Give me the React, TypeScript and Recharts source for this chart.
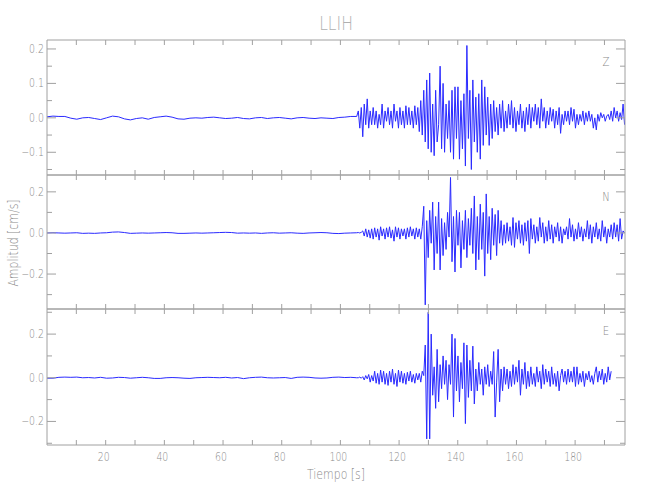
import React from "react";
import { LineChart, Line, XAxis, YAxis } from "recharts";

// samples: slow part every ~2 s, strong part every ~0.5 s
const QUIET_START = 0;
const QUIET_STEP = 2.03;
const ACTIVE_START = 106.1;
const ACTIVE_STEP = 0.507;

const Z_QUIET = [
  0.003, 0.005, 0.004, 0.004, -0.001, -0.004, 0.0, 0.001, -0.002, -0.005,
  0.0, 0.005, 0.003, -0.003, -0.006, -0.002, 0.0, -0.004, 0.001, 0.003,
  0.005, 0.002, -0.003, -0.004, -0.001, 0.0, -0.001, 0.001, 0.002, 0.0,
  -0.002, -0.001, 0.001, -0.002, -0.003, 0.0, 0.001, -0.002, 0.0, 0.001,
  -0.001, -0.003, 0.0, 0.001, -0.001, -0.002, 0.0, -0.001, -0.002, 0.001,
  0.002, 0.004, 0.004,
];
const Z_ACTIVE = [
  0.02, -0.03, 0.03, -0.055, 0.04, -0.02, 0.055, -0.03, 0.02, -0.02,
  0.03, -0.02, 0.02, -0.03, 0.01, -0.02, 0.04, -0.03, 0.02, -0.01,
  0.03, -0.02, 0.02, -0.03, 0.04, -0.01, 0.02, -0.03, 0.03, -0.02,
  0.02, -0.03, 0.035, -0.02, 0.03, -0.02, 0.02, -0.03, 0.035, -0.02,
  0.03, -0.04, 0.05, -0.05, 0.08, -0.07, 0.11, -0.09, 0.13, -0.1,
  0.04, -0.11, 0.08, -0.07, -0.02, 0.15, -0.09, 0.1, -0.1, 0.04,
  -0.06, 0.05, -0.1, 0.08, -0.12, 0.09, -0.06, 0.09, -0.12, 0.05,
  -0.09, 0.07, -0.14, 0.21, -0.06, 0.08, -0.15, 0.11, -0.07, 0.06,
  -0.1, 0.07, -0.12, 0.11, -0.08, 0.09, -0.05, 0.06, -0.08, 0.04,
  -0.06, 0.05, -0.04, 0.03, -0.05, 0.04, -0.03, 0.05, -0.04, 0.02,
  -0.03, 0.04, -0.02, 0.05, -0.03, 0.03, -0.04, 0.02, -0.02, 0.04,
  -0.03, 0.02, -0.04, 0.03, -0.02, 0.04, -0.03, 0.03, -0.01, 0.04,
  -0.02, 0.03, -0.03, 0.055, -0.01, 0.03, -0.03, 0.02, -0.02, 0.03,
  -0.01, 0.025, -0.03, 0.02, -0.02, 0.03, -0.045, 0.01, -0.02, 0.02,
  -0.01, 0.02, -0.02, 0.03, -0.01, 0.025, -0.03, 0.01, -0.02, 0.01,
  -0.01, 0.02, -0.02, 0.015, -0.01, 0.02, -0.01, 0.01, -0.03, 0.0,
  -0.035, 0.01, -0.01, 0.015, 0.0, 0.01, -0.01, 0.005, 0.01, -0.005,
  0.02, -0.01, 0.03, 0.0, 0.02, -0.01, 0.015, -0.005, 0.04, -0.02,
];

const N_QUIET = [
  0.0, 0.001, 0.0, -0.001, 0.0, 0.001, -0.002, -0.001, -0.002, 0.0,
  0.001, 0.004, 0.005, 0.002, -0.002, -0.001, 0.0, -0.001, 0.0, 0.001,
  0.002, 0.001, -0.002, -0.002, -0.001, 0.0, -0.001, 0.0, 0.001, 0.002,
  0.003, 0.002, -0.001, 0.0, -0.001, 0.0, -0.002, 0.0, 0.001, -0.001,
  0.0, 0.001, -0.001, -0.002, 0.0, 0.001, 0.002, 0.001, -0.002, -0.003,
  -0.001, 0.0, 0.001,
];
const N_ACTIVE = [
  0.002, 0.0, 0.003, 0.01, -0.015, 0.02, -0.02, 0.015, -0.025, 0.02,
  -0.03, 0.025, -0.02, 0.02, -0.035, 0.03, -0.015, 0.02, -0.03, 0.025,
  -0.02, 0.03, -0.025, 0.015, -0.04, 0.03, -0.02, 0.025, -0.03, 0.02,
  -0.015, 0.02, -0.03, 0.025, -0.02, 0.03, -0.015, 0.02, -0.03, 0.025,
  -0.02, 0.02, -0.03, 0.03, 0.13, -0.35, 0.06, -0.12, 0.11, -0.05,
  0.15, -0.18, 0.08, -0.1, 0.15, -0.18, 0.07, -0.11, 0.05, -0.08,
  0.1, -0.02, 0.27, -0.14, 0.08, -0.19, 0.11, -0.06, 0.1, -0.17,
  0.06, -0.08, 0.11, -0.12, 0.07, -0.06, 0.12, -0.1, 0.18, -0.18,
  0.08, -0.13, 0.14, -0.08, 0.1, -0.21, 0.19, -0.1, 0.08, -0.13,
  0.12, -0.06, 0.09, -0.11, 0.11, -0.05, 0.06, -0.06, 0.04, -0.05,
  0.05, -0.04, 0.03, -0.06, 0.075, -0.07, 0.05, -0.03, 0.06, -0.05,
  0.04, -0.06, 0.05, -0.04, 0.06, -0.1, 0.07, -0.03, 0.04, -0.05,
  0.03, -0.04, 0.075, -0.02, 0.05, -0.05, 0.03, -0.04, 0.06, -0.03,
  0.04, -0.05, 0.03, -0.02, 0.05, -0.04, 0.03, -0.05, 0.02, -0.01,
  0.03, -0.03, 0.07, -0.02, 0.04, -0.04, 0.02, -0.03, 0.05, -0.02,
  0.03, -0.04, 0.02, -0.02, 0.06, -0.03, 0.04, -0.05, 0.03, -0.02,
  0.05, -0.03, 0.02, -0.04, 0.06, -0.02, 0.03, -0.05, 0.02, -0.02,
  0.04, -0.03, 0.05, -0.02, 0.04, -0.04, 0.07, -0.03, 0.01, 0.0,
];

const E_QUIET = [
  -0.002, -0.002, 0.002, 0.003, 0.002, 0.003, 0.0, 0.001, -0.001, 0.002,
  -0.002, -0.001, 0.002, 0.001, -0.002, 0.0, 0.002, 0.0, -0.003, -0.003,
  0.0, 0.001, 0.0, -0.002, -0.003, 0.0, 0.001, 0.002, 0.001, 0.0,
  0.002, -0.001, 0.001, -0.004, 0.0, 0.002, 0.003, 0.0, -0.001, 0.0,
  0.001, -0.003, 0.002, 0.003, 0.002, -0.001, -0.002, -0.001, 0.002, 0.003,
  0.001, 0.002, 0.0,
];
const E_ACTIVE = [
  0.0, 0.003, -0.002, 0.005, -0.01, 0.01, -0.005, 0.015, -0.02, 0.01,
  -0.015, 0.03, -0.025, 0.02, -0.03, 0.035, -0.02, 0.03, -0.03, 0.02,
  -0.035, 0.03, -0.02, 0.04, -0.03, 0.02, -0.04, 0.035, -0.02, 0.03,
  -0.025, 0.02, -0.03, 0.025, -0.015, 0.03, -0.02, 0.015, -0.025, 0.02,
  -0.01, 0.02, -0.02, 0.03, 0.01, 0.15, -0.28, 0.3, -0.28, 0.2,
  -0.08, 0.05, -0.14, 0.13, -0.11, 0.06, -0.05, 0.1, -0.03, 0.08,
  -0.1, 0.06, -0.03, 0.2, -0.18, 0.18, -0.06, 0.1, -0.11, 0.07,
  -0.05, 0.16, -0.21, 0.15, -0.09, 0.08, -0.06, 0.145, -0.12, 0.04,
  -0.06, 0.07, -0.03, 0.04, -0.08, 0.05, -0.03, 0.06, -0.04, 0.03,
  -0.03, 0.12, -0.18, -0.02, 0.13, -0.11, 0.04, -0.06, 0.05, -0.03,
  0.04, -0.05, 0.03, -0.04, 0.06, -0.03, 0.05, -0.02, 0.08, -0.08,
  0.04, -0.03, 0.07, -0.05, 0.03, -0.04, 0.05, -0.03, 0.02, -0.04,
  0.05, -0.02, 0.03, -0.05, 0.06, -0.03, 0.04, -0.02, 0.03, -0.04,
  0.05, -0.03, 0.02, -0.04, 0.03, -0.06, 0.01, 0.04, -0.02, 0.03,
  -0.03, 0.04, -0.02, 0.03, -0.02, 0.05, -0.04, 0.05, -0.03, 0.02,
  -0.02, 0.03, -0.04, 0.02, -0.01, 0.03, -0.02, 0.01, -0.03, 0.02,
  0.05, -0.02, 0.03, -0.01, 0.04, -0.03, 0.02, -0.02, 0.05, -0.01,
  0.03,
];

const X_DOMAIN: [number, number] = [0, 197];
const X_TICKS = [10, 20, 30, 40, 50, 60, 70, 80, 90, 100, 110, 120, 130, 140, 150, 160, 170, 180, 190];

const Z_DOMAIN: [number, number] = [-0.166, 0.226];
const Z_MAJOR = [-0.1, 0, 0.1, 0.2];
const Z_MINOR = [-0.15, -0.05, 0.05, 0.15];
const N_DOMAIN: [number, number] = [-0.37, 0.282];
const N_MAJOR = [-0.2, 0, 0.2];
const N_MINOR = [-0.3, -0.1, 0.1];
const E_DOMAIN: [number, number] = [-0.308, 0.315];
const E_MAJOR = [-0.2, 0, 0.2];
const E_MINOR = [-0.3, -0.1, 0.1, 0.3];

const W = 650;
const H = 500;
const PL = 47;
const PR = 625;
const AXIS = "#a0a0a0";
const TEXT = "#8a8a8a";
const TRACE = "#2a2aff";
const FONT = "'DejaVu Sans', sans-serif";

function toSeries(quiet: number[], active: number[]) {
  return [
    ...quiet.map((v, i) => ({ t: QUIET_START + i * QUIET_STEP, v })),
    ...active.map((v, i) => ({ t: ACTIVE_START + i * ACTIVE_STEP, v })),
  ];
}

const fmt = (v: number) => (v < 0 ? "\u2212" + Math.abs(v).toFixed(1) : v.toFixed(1));

// narrow, thin text like the original plotting package
function Txt({ x, y, size, anchor = "middle", rotate = 0, fill = TEXT, children }: any) {
  return (
    <g transform={`translate(${x},${y}) rotate(${rotate}) scale(0.78,1)`}>
      <text x={0} y={0} textAnchor={anchor} fontSize={size} fill={fill} fontFamily={FONT} fontWeight={300}>
        {children}
      </text>
    </g>
  );
}

const panels = [
  { name: "Z", top: 40, bottom: 175, domain: Z_DOMAIN, major: Z_MAJOR, minor: Z_MINOR, data: toSeries(Z_QUIET, Z_ACTIVE) },
  { name: "N", top: 175, bottom: 309, domain: N_DOMAIN, major: N_MAJOR, minor: N_MINOR, data: toSeries(N_QUIET, N_ACTIVE) },
  { name: "E", top: 309, bottom: 445, domain: E_DOMAIN, major: E_MAJOR, minor: E_MINOR, data: toSeries(E_QUIET, E_ACTIVE) },
];

function Panel({ p, last }: { p: (typeof panels)[number]; last: boolean }) {
  const yTicks = [...p.minor, ...p.major].sort((a, b) => a - b);
  const leftTick = (props: any) => {
    const { y, payload } = props;
    const isMajor = p.major.includes(payload.value);
    return (
      <g>
        <line x1={PL} x2={PL + (isMajor ? 9 : 5)} y1={y} y2={y} stroke={AXIS} />
        {isMajor && <Txt x={PL - 3} y={y + 4} size={12} anchor="end">{fmt(payload.value)}</Txt>}
      </g>
    );
  };
  const rightTick = (props: any) => {
    const { y, payload } = props;
    const isMajor = p.major.includes(payload.value);
    return <line x1={PR} x2={PR - (isMajor ? 9 : 5)} y1={y} y2={y} stroke={AXIS} />;
  };
  const bottomTick = (props: any) => {
    const { x, payload } = props;
    return (
      <g>
        <line x1={x} x2={x} y1={p.bottom} y2={p.bottom - 5} stroke={AXIS} />
        {last && payload.value % 20 === 0 && <Txt x={x - 2} y={p.bottom + 16} size={12}>{payload.value}</Txt>}
      </g>
    );
  };
  const topTick = (props: any) => {
    const { x } = props;
    return <line x1={x} x2={x} y1={p.top} y2={p.top + 5} stroke={AXIS} />;
  };

  return (
    <div style={{ position: "absolute", left: 0, top: 0 }}>
      <LineChart
        width={W}
        height={H}
        data={p.data}
        margin={{ top: p.top - 1, right: W - PR - 1, bottom: H - p.bottom - 1, left: PL - 1 }}
      >
        <XAxis xAxisId="b" dataKey="t" type="number" domain={X_DOMAIN} ticks={X_TICKS} interval={0}
          allowDataOverflow height={1} tickLine={false} tick={bottomTick} axisLine={{ stroke: AXIS }} />
        <XAxis xAxisId="t" orientation="top" dataKey="t" type="number" domain={X_DOMAIN} ticks={X_TICKS} interval={0}
          allowDataOverflow height={1} tickLine={false} tick={topTick} axisLine={{ stroke: AXIS }} />
        <YAxis yAxisId="l" type="number" domain={p.domain} ticks={yTicks} interval={0}
          allowDataOverflow width={1} tickLine={false} tick={leftTick} axisLine={{ stroke: AXIS }} />
        <YAxis yAxisId="r" orientation="right" type="number" domain={p.domain} ticks={yTicks} interval={0}
          allowDataOverflow width={1} tickLine={false} tick={rightTick} axisLine={{ stroke: AXIS }} />
        <Line xAxisId="b" yAxisId="l" type="linear" dataKey="v" stroke={TRACE} strokeWidth={1}
          dot={false} isAnimationActive={false} />
      </LineChart>
    </div>
  );
}

export default function App() {
  return (
    <div style={{ position: "absolute", left: 0, top: 0, width: W, height: H, background: "#fff" }}>
      {panels.map((p, i) => (
        <Panel key={p.name} p={p} last={i === panels.length - 1} />
      ))}
      <svg width={W} height={H} style={{ position: "absolute", left: 0, top: 0, pointerEvents: "none" }}>
        <Txt x={336} y={30} size={20} fill="#b0b0b0">LLIH</Txt>
        <Txt x={336} y={479} size={14}>Tiempo [s]</Txt>
        <Txt x={18} y={243} size={14} rotate={-90}>Amplitud [cm/s]</Txt>
        {panels.map((p) => (
          <Txt key={p.name} x={606} y={p.top + 26} size={13}>{p.name}</Txt>
        ))}
      </svg>
    </div>
  );
}
